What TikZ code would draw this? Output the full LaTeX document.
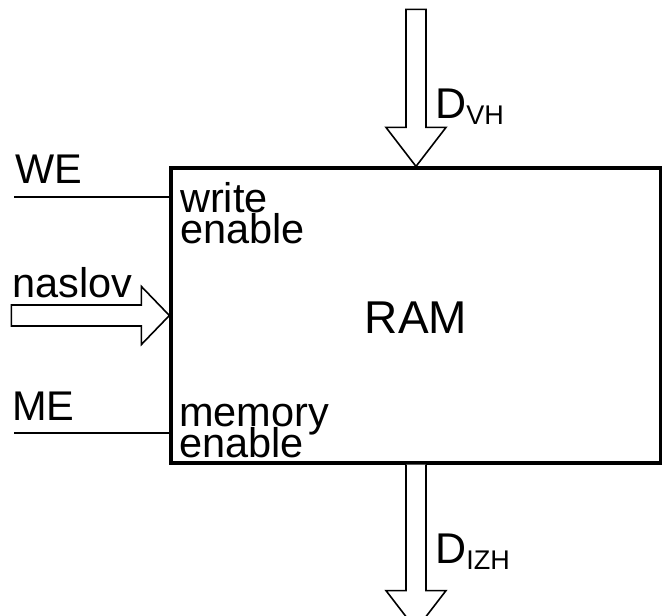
\documentclass[tikz,border=0pt]{standalone}
\usepackage{fontspec}
\setmainfont{Liberation Sans}
\begin{document}
\begin{tikzpicture}[x=1pt,y=-1pt,
  lbl/.style={inner sep=0pt,anchor=base west,font=\fontsize{41.5}{41.5}\selectfont},
  mlbl/.style={inner sep=0pt,anchor=base west,align=left,font={\fontsize{41.5}{31}\selectfont\lineskiplimit=-60pt\lineskip=0pt}},
  dlbl/.style={inner sep=0pt,anchor=base west,font=\fontsize{43}{43}\selectfont},
  bus/.style={draw=black,line width=1.6pt,fill=white,line join=miter},
  sig/.style={draw=black,line width=2pt},
  blk/.style={draw=black,line width=3.2pt,inner sep=0pt,minimum width=490pt,minimum height=295pt}]
\clip (0,0) rectangle (662,616);
\fill[white] (0,0) rectangle (662,616);
% RAM block
\node[blk] (ram) at (416,315.5) {};
\node[inner sep=0pt,anchor=base,font=\fontsize{46}{46}\selectfont] (ramt) at (416,333) {RAM};
% inner labels
\node[mlbl] (wen) at (180,243) {write\\enable};
\node[mlbl] (men) at (179,457) {memory\\enable};
% left signals
\node[lbl] (we) at (15,183) {WE};
\node[lbl] (me) at (12,420) {ME};
\node[lbl] (nas) at (12,297) {naslov};
\coordinate (weS) at (14,197);
\coordinate (meS) at (14,433);
\draw[sig] (weS) -- (weS -| ram.west);
\draw[sig] (meS) -- (meS -| ram.west);
% address bus arrow
\draw[bus,shift={(ram.west)}] (0,0) -- (-28,-29) -- (-28,-10.5) -- (-158,-10.5) -- (-158,10.5) -- (-28,10.5) -- (-28,29) -- cycle;
% data in arrow
\draw[bus,shift={(ram.north)}] (0,0) -- (-30,-39) -- (-10,-39) -- (-10,-157) -- (10,-157) -- (10,-39) -- (30,-39) -- cycle;
% data out arrow
\draw[bus,shift={(ram.south)}] (-10,0) -- (-10,126) -- (-30,126) -- (0,165) -- (30,126) -- (10,126) -- (10,0);
% data labels
\node[dlbl] (dvh) at (435,118) {D\raisebox{-6pt}{\fontsize{27}{27}\selectfont VH}};
\node[dlbl] (dizh) at (435,563) {D\raisebox{-6pt}{\fontsize{27}{27}\selectfont IZH}};
\end{tikzpicture}
\end{document}
